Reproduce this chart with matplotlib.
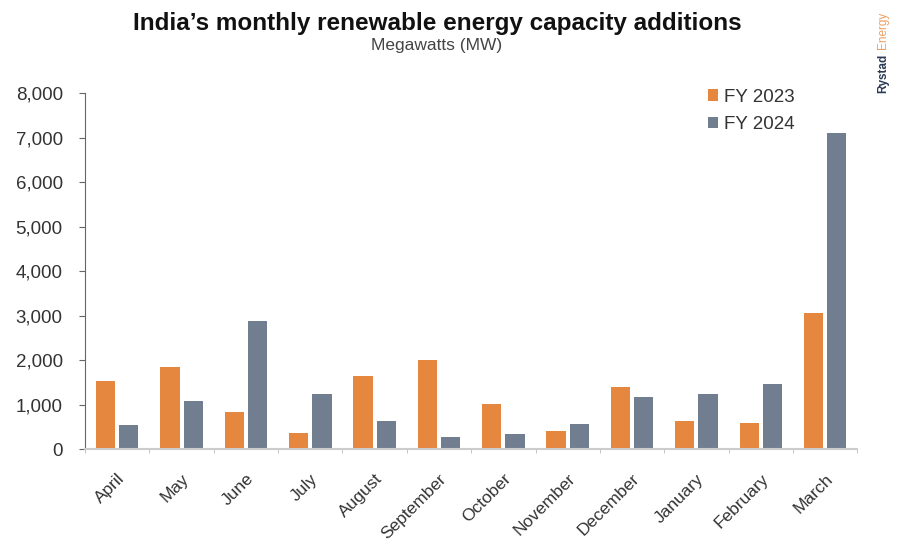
import matplotlib
matplotlib.use("Agg")
import matplotlib.pyplot as plt
import numpy as np

# data (MW)
months = ["April", "May", "June", "July", "August", "September", "October",
          "November", "December", "January", "February", "March"]
fy2023 = [1520, 1840, 830, 350, 1640, 2000, 1010, 400, 1400, 640, 580, 3060]
fy2024 = [530, 1070, 2870, 1240, 620, 260, 340, 560, 1180, 1240, 1460, 7110]
yticks = [0, 1000, 2000, 3000, 4000, 5000, 6000, 7000, 8000]

orange = "#E5873F"
slate = "#717E90"

plt.rcParams["font.family"] = ["Liberation Sans", "DejaVu Sans"]

fig = plt.figure(figsize=(8.99, 5.44), dpi=100)
ax = fig.add_axes([0.0946, 0.1746, 0.859, 0.654])

x = np.arange(len(months))
w = 0.3
ax.bar(x - 0.18, fy2023, width=w, color=orange, label="FY 2023")
ax.bar(x + 0.18, fy2024, width=w, color=slate, label="FY 2024")

ax.set_xlim(-0.5, len(months) - 0.5)
ax.set_ylim(0, 8000)
ax.set_yticks(yticks)
ax.set_yticklabels([f"{v:,}" for v in yticks], fontsize=13.5, color="#333333")

# month labels at centres, little tick marks between categories
ax.set_xticks(x)
ax.set_xticklabels(months, rotation=45, ha="right", rotation_mode="anchor",
                   fontsize=12.5, color="#333333")
ax.tick_params(axis="x", length=0, pad=16)
ax.set_xticks(np.arange(len(months) + 1) - 0.5, minor=True)
ax.tick_params(axis="x", which="minor", length=3, color="#bbbbbb")
ax.tick_params(axis="y", length=4, color="#666666", pad=12)

for s in ["top", "right"]:
    ax.spines[s].set_visible(False)
ax.spines["left"].set_color("#666666")
ax.spines["bottom"].set_color("#cccccc")
ax.spines["bottom"].set_linewidth(1.5)

leg = ax.legend(loc="upper left", bbox_to_anchor=(0.785, 1.06), frameon=False,
                fontsize=13.5, handlelength=0.55, handleheight=0.55,
                handletextpad=0.3, labelspacing=0.55)
for t in leg.get_texts():
    t.set_color("#333333")

fig.text(0.486, 0.956, "India\u2019s monthly renewable energy capacity additions",
         ha="center", va="center", fontsize=17.5, fontweight="bold", color="#111111")
fig.text(0.486, 0.917, "Megawatts (MW)", ha="center", va="center",
         fontsize=12.5, color="#444444")
fig.text(0.982, 0.865, "Rystad", rotation=90, ha="center", va="center",
         fontsize=8.5, fontweight="bold", color="#2b3a55")
fig.text(0.982, 0.945, "Energy", rotation=90, ha="center", va="center",
         fontsize=8.5, color="#EBA064")

plt.savefig("out.png", dpi=100)
